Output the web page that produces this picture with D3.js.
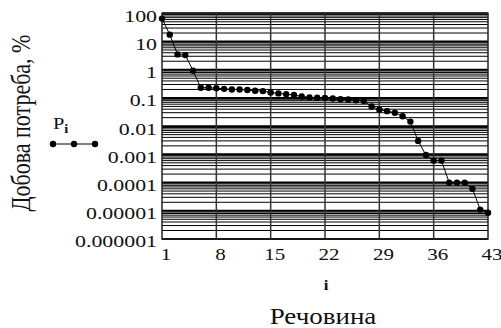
<!DOCTYPE html>
<html>
<head>
<meta charset="utf-8">
<script src="https://cdn.jsdelivr.net/npm/d3@7"></script>
<style>
    body { margin: 0; background: #fff; }
    text { font-family: "Liberation Serif", "DejaVu Serif", serif; fill: #111; }
</style>
</head>
<body>
<div id="chart"></div>
<script>
'use strict';

// substance number i
const index = [1, 2, 3, 4, 5, 6, 7, 8, 9, 10, 11, 12, 13, 14, 15, 16, 17, 18, 19, 20, 21, 22,
    23, 24, 25, 26, 27, 28, 29, 30, 31, 32, 33, 34, 35, 36, 37, 38, 39, 40, 41, 42, 43];

// daily need P_i, %
const share = [65, 17.5, 3.5, 3.3, 0.92, 0.23, 0.23, 0.22, 0.21, 0.2, 0.2, 0.19, 0.18, 0.175,
    0.155, 0.145, 0.135, 0.128, 0.112, 0.105, 0.102, 0.1, 0.095, 0.09, 0.088, 0.083, 0.078,
    0.05, 0.038, 0.034, 0.03, 0.0225, 0.0145, 0.003, 0.00095, 0.0006, 0.0006, 0.0001, 0.0001,
    0.0001, 0.00006, 0.000011, 0.0000085];

const xTicks = [1, 8, 15, 22, 29, 36, 43];
const yTicks = [0.000001, 0.00001, 0.0001, 0.001, 0.01, 0.1, 1, 10, 100];
const yTickLabels = ['0.000001', '0.00001', '0.0001', '0.001', '0.01', '0.1', '1', '10', '100'];

const width = 501,
    height = 328,
    stretch = 1.2;

let svg = d3.select('#chart').append('svg')
    .attr('width', width)
    .attr('height', height);

let x = d3.scaleLinear().domain([1, 43]).range([162, 488]);
let y = d3.scaleLog().domain([1e-6, 100]).range([239, 13.3]);

// minor log lines (2..9 in each decade) and the decade lines
let minor = [];
yTicks.slice(0, -1).forEach(function(t) {
    for (let k = 2; k <= 9; k++) minor.push(t * k);
});

let grid = svg.append('g').attr('id', 'grid');

grid.selectAll('.minor')
    .data(minor)
    .enter()
    .append('line')
    .attr('class', 'minor')
    .attr('x1', x(1)).attr('x2', x(43))
    .attr('y1', function(d) { return y(d); })
    .attr('y2', function(d) { return y(d); })
    .style('stroke', '#000')
    .style('stroke-width', 1);

grid.selectAll('.major')
    .data(yTicks)
    .enter()
    .append('line')
    .attr('class', 'major')
    .attr('x1', x(1)).attr('x2', x(43))
    .attr('y1', function(d) { return y(d); })
    .attr('y2', function(d) { return y(d); })
    .style('stroke', '#000')
    .style('stroke-width', 2);

grid.selectAll('.vline')
    .data(xTicks.slice(1, -1))
    .enter()
    .append('line')
    .attr('class', 'vline')
    .attr('x1', function(d) { return x(d); })
    .attr('x2', function(d) { return x(d); })
    .attr('y1', y(100)).attr('y2', y(1e-6))
    .style('stroke', '#333')
    .style('stroke-width', 1.5);

svg.append('rect')
    .attr('x', x(1)).attr('y', y(100))
    .attr('width', x(43) - x(1))
    .attr('height', y(1e-6) - y(100))
    .style('fill', 'none')
    .style('stroke', '#222')
    .style('stroke-width', 1.5);

// axes: labels only
let yAxis = svg.append('g')
    .attr('transform', 'translate(' + x(1) + ',0)')
    .call(d3.axisLeft(y)
        .tickValues(yTicks)
        .tickFormat(function(d, i) { return yTickLabels[i]; })
        .tickSize(0)
        .tickPadding(4));

yAxis.select('.domain').remove();
yAxis.selectAll('text')
    .attr('font-size', 17.5)
    .attr('font-family', '"Liberation Serif", serif')
    .attr('fill', '#111')
    .attr('dy', '0.45em')
    .attr('transform', 'scale(1.25,1)');

let xAxis = svg.append('g')
    .attr('transform', 'translate(0,' + y(1e-6) + ')')
    .call(d3.axisBottom(x)
        .tickValues(xTicks)
        .tickSize(0)
        .tickPadding(9));

xAxis.select('.domain').remove();
xAxis.selectAll('text')
    .attr('font-size', 17.5)
    .attr('font-family', '"Liberation Serif", serif')
    .attr('fill', '#111')
    .attr('x', 3)
    .attr('transform', 'scale(' + stretch + ',1)');

// data line and dots
let series = index.map(function(d, i) { return { i: d, p: share[i] }; });

svg.append('path')
    .datum(series)
    .attr('d', d3.line()
        .x(function(d) { return x(d.i); })
        .y(function(d) { return y(d.p); }))
    .style('fill', 'none')
    .style('stroke', '#000')
    .style('stroke-width', 1);

svg.append('g')
    .selectAll('circle')
    .data(series)
    .enter()
    .append('circle')
    .attr('cx', function(d) { return x(d.i); })
    .attr('cy', function(d) { return y(d.p); })
    .attr('r', 3.2)
    .style('fill', '#000');

// titles
svg.append('text')
    .attr('transform', 'translate(30,123) scale(' + stretch + ',1) rotate(-90)')
    .attr('text-anchor', 'middle')
    .attr('font-size', 22)
    .text('Добова потреба, %');

svg.append('text')
    .attr('transform', 'translate(326,290) scale(' + stretch + ',1)')
    .attr('text-anchor', 'middle')
    .attr('font-size', 14)
    .attr('font-weight', 'bold')
    .text('i');

svg.append('text')
    .attr('transform', 'translate(323,324) scale(' + stretch + ',1)')
    .attr('text-anchor', 'middle')
    .attr('font-size', 22.5)
    .text('Речовина');

// legend
let legend = svg.append('g').attr('id', 'legend');

let key = legend.append('text')
    .attr('transform', 'translate(53,129) scale(' + stretch + ',1)')
    .attr('font-size', 17);
key.append('tspan').text('P');
key.append('tspan').attr('dy', 4).attr('font-size', 12).attr('font-weight', 'bold').text('i');

legend.append('line')
    .attr('x1', 53).attr('x2', 95)
    .attr('y1', 144).attr('y2', 144)
    .style('stroke', '#000')
    .style('stroke-width', 1);

legend.selectAll('circle')
    .data([53, 74, 95])
    .enter()
    .append('circle')
    .attr('cx', function(d) { return d; })
    .attr('cy', 144)
    .attr('r', 3.2)
    .style('fill', '#000');
</script>
</body>
</html>
